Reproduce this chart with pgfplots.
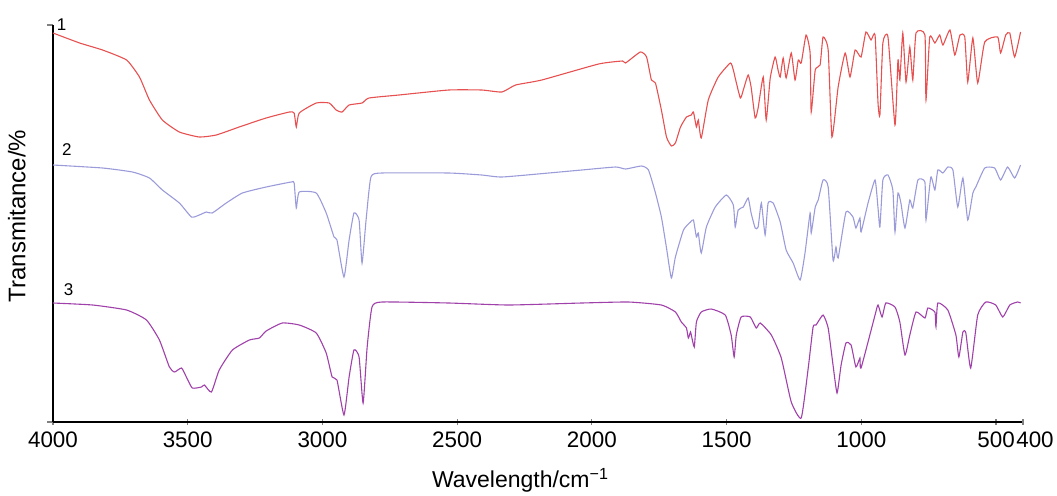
\documentclass[border=0pt]{standalone}
\usepackage{pgfplots}
\pgfplotsset{compat=1.18}
\usepackage{fontspec}
\setmainfont{Liberation Sans}
\definecolor{cred}{RGB}{230,80,80}
\definecolor{cblue}{RGB}{155,155,218}
\definecolor{cpurple}{RGB}{160,64,170}
\begin{document}
\begin{tikzpicture}
\useasboundingbox (-26.5pt,-36.5pt) rectangle (502pt,211pt);
\begin{axis}[
  at={(0,0)}, anchor=south west,
  scale only axis, width=485pt, height=198.5pt,
  xmin=400, xmax=4000, x dir=reverse,
  ymin=0, ymax=397,
  axis x line=bottom, axis y line=left,
  axis line style={-, line width=0.8pt},
  xtick={4000,3500,3000,2500,2000,1500,1000,500},
  xticklabels={4000,3500,3000,2500,2000,1500,1000,500\hspace{8pt}},
  extra x ticks={400},
  extra x tick labels={\hspace{12pt}400},
  ytick={0,397}, yticklabels={},
  y tick style={line width=0.6pt},
  x tick style={line width=0.6pt},
  major tick length=3pt,
  xtick align=center, ytick align=outside,
  ticklabel style={font=\fontsize{11.2}{13}\selectfont},
  xlabel={Wavelength/cm\textsuperscript{−1}},
  ylabel={Transmitance/\%},
  xlabel style={at={(axis description cs:0.482,-0.166)}, anchor=base, font=\fontsize{11.5}{13}\selectfont},
  ylabel style={at={(axis description cs:-0.021,0.519)}, anchor=south, font=\fontsize{12}{14}\selectfont},
  clip=false,
  every axis plot/.append style={line width=0.55pt, smooth, tension=0.3},
]
% curve 1 (red)
\addplot[cred] coordinates {
(4000,389)(3901,379)(3816,372)(3727,362)(3679,345)(3642,322)(3594,302)(3531,290)(3457,285)(3394,287)(3309,295)(3209,304)(3123,310)(3105,309)(3097,295)(3086,309)(3023,319)(2975,319)(2949,312)(2927,310)(2901,317)(2853,319)(2827,324)(2716,327)(2531,332)(2409,332)(2334,330)(2283,337)(2186,342)(1975,358)(1886,361)(1875,359)(1820,370)(1797,365)(1779,342)(1764,339)(1742,312)(1723,285)(1705,276)(1690,279)(1671,295)(1649,305)(1631,307)(1623,310)(1612,295)(1605,302)(1594,284)(1568,322)(1531,345)(1486,359)(1475,352)(1468,344)(1449,324)(1438,332)(1420,347)(1409,335)(1394,304)(1383,314)(1364,345)(1353,302)(1338,344)(1320,365)(1309,352)(1301,345)(1290,364)(1279,344)(1260,369)(1246,342)(1234,362)(1223,359)(1205,387)(1190,369)(1186,310)(1171,352)(1153,357)(1142,385)(1123,372)(1109,285)(1086,335)(1060,369)(1042,345)(1023,372)(1001,365)(983,390)(964,382)(949,387)(938,319)(931,307)(920,379)(901,385)(875,297)(864,362)(857,342)(846,389)(834,340)(820,375)(809,342)(797,389)(764,387)(760,322)(746,385)(727,379)(709,387)(697,377)(671,392)(653,367)(634,387)(616,385)(605,340)(586,384)(568,339)(542,380)(494,385)(483,369)(464,387)(449,389)(431,365)(409,390)
};
% curve 2 (blue)
\addplot[cblue] coordinates {
(4000,257)(3816,254)(3705,250)(3642,244)(3594,232)(3531,219)(3486,205)(3457,207)(3431,210)(3409,209)(3357,219)(3297,229)(3209,235)(3116,240)(3105,239)(3097,214)(3086,230)(3023,229)(2986,209)(2957,185)(2946,182)(2920,145)(2901,182)(2883,209)(2864,202)(2853,159)(2838,202)(2820,245)(2779,249)(2531,249)(2409,247)(2334,245)(2160,249)(2038,252)(1912,255)(1875,253)(1816,256)(1790,252)(1764,229)(1742,205)(1723,174)(1705,144)(1690,165)(1660,192)(1634,200)(1623,202)(1612,185)(1605,189)(1594,169)(1575,195)(1542,215)(1501,227)(1475,217)(1468,195)(1457,212)(1438,215)(1420,224)(1409,209)(1394,194)(1383,195)(1371,219)(1357,187)(1346,219)(1327,219)(1301,200)(1279,172)(1253,159)(1227,142)(1209,169)(1190,209)(1186,189)(1171,215)(1160,222)(1142,242)(1123,235)(1105,162)(1094,175)(1086,164)(1057,210)(1031,205)(1020,194)(1005,204)(1001,190)(975,219)(949,242)(938,214)(931,195)(920,242)(901,247)(883,232)(875,190)(864,229)(853,219)(838,194)(820,222)(809,214)(790,242)(764,240)(760,202)(742,245)(727,232)(716,252)(697,249)(679,255)(660,252)(642,215)(623,244)(605,202)(586,229)(575,235)(542,254)(505,254)(483,242)(457,255)(431,244)(409,257)
};
% curve 3 (purple)
\addplot[cpurple] coordinates {
(4000,119)(3853,117)(3727,112)(3653,102)(3605,82)(3568,55)(3549,50)(3523,54)(3505,45)(3483,34)(3449,35)(3438,37)(3412,30)(3383,52)(3334,72)(3271,82)(3234,84)(3209,91)(3149,99)(3086,97)(3023,89)(2986,69)(2964,45)(2946,42)(2920,7)(2901,45)(2883,72)(2864,65)(2849,19)(2834,75)(2816,115)(2779,120)(2531,119)(2309,117)(2038,119)(1864,120)(1742,117)(1690,110)(1668,100)(1649,94)(1642,84)(1634,90)(1631,87)(1620,75)(1612,100)(1594,110)(1557,113)(1505,107)(1483,87)(1472,65)(1464,87)(1446,105)(1412,105)(1390,94)(1375,99)(1334,87)(1297,64)(1260,20)(1223,4)(1197,54)(1179,95)(1168,97)(1142,107)(1123,94)(1105,57)(1090,29)(1075,57)(1057,79)(1038,77)(1020,55)(1005,64)(1001,54)(949,107)(938,117)(923,105)(909,119)(875,115)(857,100)(838,67)(820,87)(797,110)(764,104)(753,114)(727,110)(723,95)(716,119)(679,112)(649,87)(638,65)(623,90)(612,89)(594,54)(568,107)(538,120)(501,117)(475,105)(449,117)(420,120)(409,119)
};
\node[anchor=base, font=\fontsize{8.5}{10}\selectfont] at (axis cs:3968,392) {1};
\node[anchor=base, font=\fontsize{8.5}{10}\selectfont] at (axis cs:3949,267) {2};
\node[anchor=base, font=\fontsize{8.5}{10}\selectfont] at (axis cs:3942,127) {3};
\end{axis}
\end{tikzpicture}
\end{document}
